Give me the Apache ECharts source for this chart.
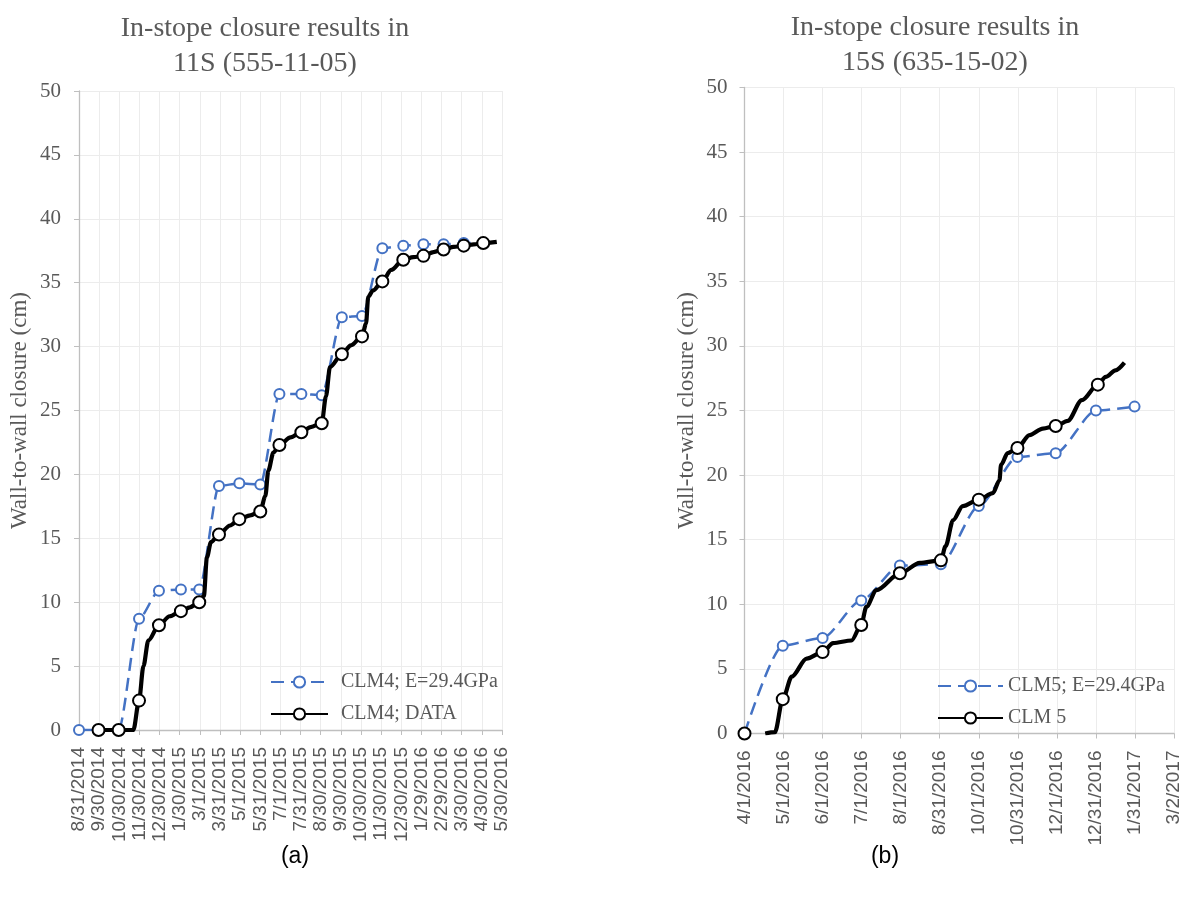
<!DOCTYPE html>
<html><head><meta charset="utf-8">
<script src="https://cdn.jsdelivr.net/npm/echarts@6/dist/echarts.min.js"></script>
<style>html,body{margin:0;padding:0;background:#fff}#c{width:1186px;height:898px}</style>
</head><body><div id="c"></div>
<script>
// ---- Tick labels (x positions are month steps from the first label) ----
const leftTickLabels = ['8/31/2014','9/30/2014','10/30/2014','11/30/2014','12/30/2014','1/30/2015','3/1/2015','3/31/2015','5/1/2015','5/31/2015','7/1/2015','7/31/2015','8/30/2015','9/30/2015','10/30/2015','11/30/2015','12/30/2015','1/29/2016','2/29/2016','3/30/2016','4/30/2016','5/30/2016'];
const rightTickLabels = ['4/1/2016','5/1/2016','6/1/2016','7/1/2016','8/1/2016','8/31/2016','10/1/2016','10/31/2016','12/1/2016','12/31/2016','1/31/2017','3/2/2017'];

// ---- (a) 11S: model CLM4; E=29.4GPa ----
const aModelX = [0,0.97,1.97,2.98,3.97,5.06,5.97,6.95,7.96,9.0,9.95,11.04,12.05,13.05,14.05,15.06,16.1,17.1,18.1,19.1,20.07];
const aModelY = [0,0,0,8.7,10.9,11.0,11.0,19.1,19.3,19.2,26.3,26.3,26.2,32.3,32.4,37.7,37.9,38.0,38.0,38.1,38.1];

// ---- (a) 11S: measured CLM4; DATA ----
const aDataX = [0.97,1.97,2.7,2.98,3.2,3.44,3.97,4.5,5.06,5.5,5.97,6.2,6.35,6.55,6.95,7.5,7.96,8.5,9.0,9.25,9.4,9.65,9.95,10.5,11.04,11.5,12.05,12.26,12.46,13.05,13.5,14.05,14.25,14.36,14.6,15.06,15.5,16.1,16.6,17.1,17.6,18.1,18.6,19.1,19.6,20.07,20.74];
const aDataY = [0,0,0,2.3,5.0,7.0,8.2,8.9,9.3,9.6,10.0,10.5,13.5,14.7,15.3,16.0,16.5,16.8,17.1,18.3,20.3,21.7,22.3,22.9,23.3,23.7,24.0,26.1,28.4,29.4,30.1,30.8,31.8,33.9,34.4,35.1,36.0,36.8,37.0,37.1,37.4,37.6,37.8,37.9,38.0,38.1,38.2];
const aDataMarkX = [0.97,1.97,2.98,3.97,5.06,5.97,6.95,7.96,9.0,9.95,11.04,12.05,13.05,14.05,15.06,16.1,17.1,18.1,19.1,20.07];

// ---- (b) 15S: model CLM5; E=29.4GPa ----
const bModelX = [0,0.98,2.0,2.99,3.98,5.03,6.0,6.99,7.97,9.0,9.99];
const bModelY = [0,6.8,7.4,10.3,13.0,13.1,17.6,21.4,21.7,25.0,25.3];

// ---- (b) 15S: measured CLM 5 (null = gap in the record) ----
const bDataX = [0,0.26,0.53,0.78,0.98,1.21,1.59,2.0,2.27,2.74,2.99,3.12,3.38,3.98,4.49,5.03,5.15,5.34,5.59,6.0,6.36,6.53,6.57,6.74,6.99,7.3,7.64,7.97,8.28,8.64,9.05,9.25,9.5,9.73];
const bDataY = [0,null,0,0.1,2.66,4.4,5.8,6.3,7.0,7.2,8.4,9.8,11.1,12.4,13.2,13.4,14.5,16.5,17.6,18.1,18.6,19.6,20.8,21.7,22.1,23.1,23.6,23.8,24.2,25.8,27.0,27.6,28.1,28.7];
const bDataMarkX = [0,0.98,2.0,2.99,3.98,5.03,6.0,6.99,7.97,9.05];

const titles = ['In-stope closure results in\n11S (555-11-05)','In-stope closure results in\n15S (635-15-02)'];
const captions = ['(a)','(b)'];
const seriesNames = ['CLM4; E=29.4GPa','CLM4; DATA','CLM5; E=29.4GPa','CLM 5'];
const yName = 'Wall-to-wall closure (cm)';

// ---- build ----
function pairs(xs, ys){ return xs.map((x,i)=>[x, ys[i]===null ? '-' : ys[i]]); }
function marked(xs, ys, marks){
  return xs.map((x,i)=>{
    const v=[x, ys[i]===null ? '-' : ys[i]];
    return marks.indexOf(x)>=0 ? {value:v} : {value:v, symbol:'none'};
  });
}
const GREY='#595959', SERIF='Liberation Serif', SANS='Liberation Sans';
function xAxis(gi, labels){
  return {type:'value', gridIndex:gi, min:0, max:labels.length-1, interval:1,
    axisLine:{show:true,onZero:false,lineStyle:{color:'#bfbfbf',width:1.3}},
    axisTick:{show:true,length:5,lineStyle:{color:'#bfbfbf'}},
    splitLine:{show:true,lineStyle:{color:'#ececec',width:1}},
    axisLabel:{rotate:90,margin:17,fontFamily:SANS,fontSize:19,color:GREY,
      formatter:v=>labels[Math.round(v)]}};
}
function yAxis(gi, gap, margin){
  return {type:'value', gridIndex:gi, min:0, max:50, interval:5,
    name:yName, nameLocation:'middle', nameGap:gap, nameRotate:90,
    nameTextStyle:{fontFamily:SERIF,fontSize:23,color:GREY},
    axisLine:{show:true,lineStyle:{color:'#bfbfbf',width:1.3}},
    axisTick:{show:true,length:5,lineStyle:{color:'#bfbfbf'}},
    splitLine:{show:true,lineStyle:{color:'#ececec',width:1}},
    axisLabel:{margin:margin,fontFamily:SERIF,fontSize:21,color:GREY}};
}
function modelSeries(name, gi, data){
  return {name, type:'line', xAxisIndex:gi, yAxisIndex:gi, data, smooth:0.25, smoothMonotone:'x',
    symbol:'emptyCircle', symbolSize:10, z:2,
    lineStyle:{color:'#4472C4',width:2.5,type:[13,7]},
    itemStyle:{color:'#4472C4',borderColor:'#4472C4',borderWidth:1.8}};
}
function dataSeries(name, gi, data){
  return {name, type:'line', xAxisIndex:gi, yAxisIndex:gi, data, smooth:0.3, smoothMonotone:'x',
    connectNulls:false, symbol:'emptyCircle', symbolSize:12, z:3,
    lineStyle:{color:'#000',width:4.2},
    itemStyle:{color:'#000',borderColor:'#000',borderWidth:2.4}};
}
const legendText = {fontFamily:SERIF,fontSize:20,color:GREY,lineHeight:20};
const option = {
  animation:false,
  backgroundColor:'#fff',
  title:[
    {text:titles[0],left:260,top:6,textAlign:'center',textStyle:{fontFamily:SERIF,fontSize:28,fontWeight:'normal',color:GREY,lineHeight:35}},
    {text:titles[1],left:930,top:5,textAlign:'center',textStyle:{fontFamily:SERIF,fontSize:28,fontWeight:'normal',color:GREY,lineHeight:35}},
    {text:captions[0],left:290,top:840,textAlign:'center',textStyle:{fontFamily:SANS,fontSize:23,fontWeight:'normal',color:'#000'}},
    {text:captions[1],left:880,top:840,textAlign:'center',textStyle:{fontFamily:SANS,fontSize:23,fontWeight:'normal',color:'#000'}}
  ],
  grid:[
    {left:79,top:91,width:423,height:639},
    {left:744.5,top:87.5,width:429.5,height:646}
  ],
  xAxis:[xAxis(0,leftTickLabels), xAxis(1,rightTickLabels)],
  yAxis:[yAxis(0,48,18), yAxis(1,46,17)],
  legend:[
    {data:[seriesNames[0],seriesNames[1]],orient:'vertical',left:265,top:667,itemWidth:57,itemHeight:14,itemGap:12,
     textStyle:Object.assign({padding:[0,0,0,8]},legendText)},
    {data:[seriesNames[2],seriesNames[3]],orient:'vertical',left:932,top:671,itemWidth:65,itemHeight:14,itemGap:12,
     textStyle:legendText}
  ],
  series:[
    modelSeries(seriesNames[0],0,pairs(aModelX,aModelY)),
    dataSeries(seriesNames[1],0,marked(aDataX,aDataY,aDataMarkX)),
    modelSeries(seriesNames[2],1,pairs(bModelX,bModelY)),
    dataSeries(seriesNames[3],1,marked(bDataX,bDataY,bDataMarkX))
  ]
};
const chart = echarts.init(document.getElementById('c'));
chart.setOption(option);
</script></body></html>
